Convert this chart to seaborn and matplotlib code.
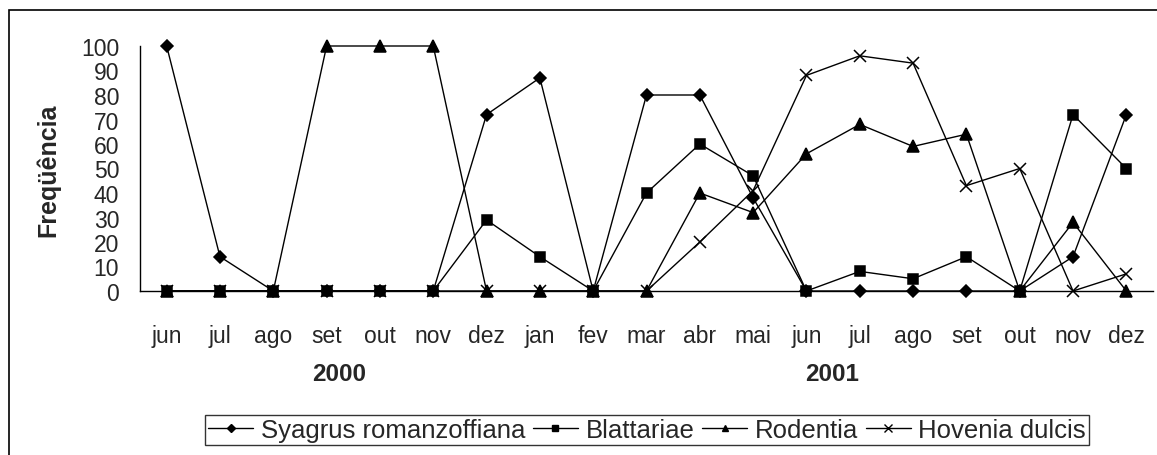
import numpy as np
import pandas as pd
import matplotlib
matplotlib.use("Agg")
import matplotlib.pyplot as plt
from matplotlib.lines import Line2D
from matplotlib.patches import Rectangle
import seaborn as sns

# meses de coleta (jun/2000 a dez/2001)
meses = ["jun", "jul", "ago", "set", "out", "nov", "dez", "jan", "fev", "mar",
         "abr", "mai", "jun", "jul", "ago", "set", "out", "nov", "dez"]
anos = ["2000", "2001"]

# frequencias
syagrus = [100, 14, 0, 0, 0, 0, 72, 87, 0, 80, 80, 38, 0, 0, 0, 0, 0, 14, 72]
blattariae = [0, 0, 0, 0, 0, 0, 29, 14, 0, 40, 60, 47, 0, 8, 5, 14, 0, 72, 50]
rodentia = [0, 0, 0, 100, 100, 100, 0, 0, 0, 0, 40, 32, 56, 68, 59, 64, 0, 28, 0]
hovenia = [0, 0, 0, 0, 0, 0, 0, 0, 0, 0, 20, 41, 88, 96, 93, 43, 50, 0, 7]

series = ["Syagrus romanzoffiana", "Blattariae", "Rodentia", "Hovenia dulcis"]
valores = [syagrus, blattariae, rodentia, hovenia]
marcadores = ["D", "s", "^", "x"]
tamanhos = [6.5, 7, 8, 9]

sns.set_style("white")
plt.rcParams["font.family"] = ["Liberation Sans", "DejaVu Sans"]

fig = plt.figure(figsize=(11.57, 4.56), dpi=100)
ax = fig.add_axes([140 / 1157, 1 - 292 / 456, 1013 / 1157, 245 / 456])

idx = np.arange(len(meses))
for nome, vals, mk, ms in zip(series, valores, marcadores, tamanhos):
    sns.lineplot(x=idx, y=vals, ax=ax, color="black", linewidth=1,
                 marker=mk, markersize=ms, markeredgecolor="black",
                 markeredgewidth=1.1, clip_on=False, label=None)

ax.set_xlim(-0.5, len(meses) - 0.5)
ax.set_ylim(0, 100)
ax.set_yticks(range(0, 101, 10))
ax.set_xticks(idx)
ax.set_xticklabels(meses)
ax.set_xticks(np.arange(-0.5, len(meses)), minor=True)
ax.tick_params(axis="x", which="major", length=0, pad=24, labelsize=16.5)
ax.tick_params(axis="x", which="minor", length=6, width=1, color="#444444", direction="out")
ax.tick_params(axis="y", length=6, width=1, color="#444444", direction="out",
               labelsize=16.5, pad=9)
ax.set_xlabel("")
ax.set_ylabel("")

sns.despine(ax=ax)
for s in ["left", "bottom"]:
    ax.spines[s].set_color("black")
    ax.spines[s].set_linewidth(1)

# anos abaixo dos meses
ax.text(3.23, -0.335, anos[0], transform=ax.get_xaxis_transform(),
        ha="center", va="center", fontsize=17.5, fontweight="bold")
ax.text(12.48, -0.335, anos[1], transform=ax.get_xaxis_transform(),
        ha="center", va="center", fontsize=17.5, fontweight="bold")

fig.text(48 / 1157, 1 - 170 / 456, "Freqüência", rotation=90, ha="center",
         va="center", fontsize=18, fontweight="bold")

handles = [Line2D([], [], color="black", lw=1, marker=mk, markersize=ms * 0.6,
                  markeredgewidth=1) for mk, ms in zip(marcadores, tamanhos)]
leg = fig.legend(handles, series, loc="center",
                 bbox_to_anchor=(647 / 1157, 1 - 431 / 456), ncol=4,
                 fontsize=18.5, frameon=True, fancybox=False, edgecolor="black",
                 handlelength=1.75, handletextpad=0.3, columnspacing=0.3,
                 borderpad=0.12, borderaxespad=0)
leg.get_frame().set_linewidth(1)

fig.patches.append(Rectangle((9 / 1157, -0.2), 1.5, 1.2 - 11 / 456,
                             transform=fig.transFigure, fill=False,
                             edgecolor="black", linewidth=1.2))

fig.savefig("out.png", dpi=100)
